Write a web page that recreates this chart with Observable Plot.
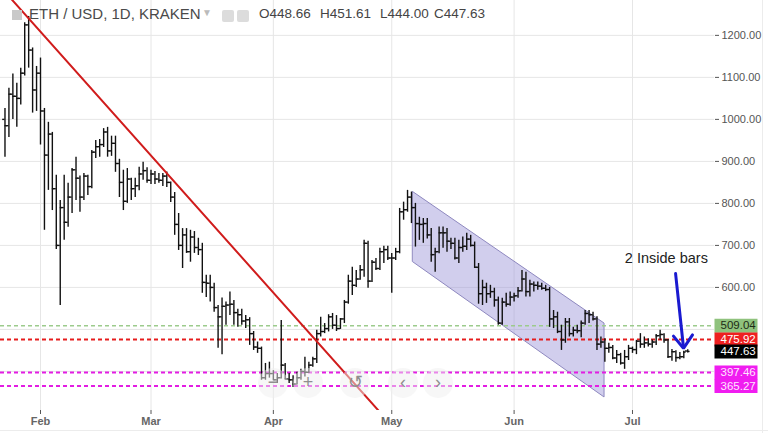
<!DOCTYPE html>
<html><head><meta charset="utf-8">
<script src="https://cdn.jsdelivr.net/npm/d3@7"></script>
<script src="https://cdn.jsdelivr.net/npm/@observablehq/plot@0.6"></script>
<style>
body{margin:0;background:#fff;}
#wrap{position:relative;width:768px;height:433px;overflow:hidden;font-family:"Liberation Sans",Arial,sans-serif;}
#wrap svg{position:absolute;left:0;top:0;}
.sq{position:absolute;left:12px;top:10px;width:10px;height:10px;background:#c9c9c9;}
.ttl{position:absolute;left:29px;top:5px;font-size:15px;color:#4a4a4a;}
.car{position:absolute;left:202px;top:7px;font-size:10px;color:#bbb;}
.ic{position:absolute;top:10px;width:12px;height:12px;background:#dcdcdc;border-radius:2px;}
.ohlc{position:absolute;top:6px;font-size:13.5px;color:#444;}
.btn{position:absolute;top:368px;width:30px;height:30px;border-radius:15px;background:rgba(240,240,240,0.5);color:#8f8f8f;font-size:18px;text-align:center;line-height:29px;}
.edge{position:absolute;left:762px;top:0;width:1px;height:433px;background:#ececec;}
.bot{position:absolute;left:0;top:430px;width:768px;height:1px;background:#ececec;}
</style></head><body><div id="wrap"></div>
<script>
// ---- data ----
const firstDay = "2018-01-23";
const opens = [
1000,985,1060,1055,1050,1110,1225,1165,1070,
1110,1020,915,965,835,700,790,755,815,880,860,815,865,840,922,935,940,970,925,943,895,850,805,858,835,842,870,878,
855,870,858,855,865,850,815,750,700,725,685,720,695,690,612,610,600,552,530,555,558,560,540,535,520,523,490,458,455,385,395,
395,380,385,415,382,380,370,385,400,398,415,430,490,495,502,530,510,502,525,565,615,605,620,642,705,615,660,645,685,690,
670,670,685,780,785,815,790,752,750,752,725,678,685,730,730,710,705,670,695,698,715,700,648,585,600,585,590,570,515,565,560,
577,580,592,620,590,608,605,603,598,595,525,530,495,475,518,490,498,497,515,538,535,525,465,470,455,457,432,440,420,435,
455,452,472,465,468,465,470,485,488,475,435,447,433,435,448.66];
const highs = [
1026,1074,1108,1086,1122,1230,1245,1170,1126,
1146,1026,993,969,867,807,867,848,883,910,865,871,867,926,950,952,978,981,960,960,905,879,883,860,860,886,898,885,
879,876,871,871,875,851,826,776,740,740,736,733,717,705,629,629,610,557,575,565,589,569,548,548,533,528,495,470,458,419,422,
402,395,521,419,395,390,398,405,434,422,434,498,529,514,535,538,533,526,569,629,648,640,652,712,710,664,669,693,698,698,
681,693,788,803,831,827,800,767,764,764,740,693,744,744,740,717,717,712,720,729,724,708,657,617,610,605,598,577,574,586,589,
586,600,640,636,617,613,613,610,605,600,545,541,510,526,526,505,510,520,545,545,541,530,482,478,467,462,450,443,450,462,
458,474,490,482,478,475,488,498,490,476,452,449,445,448,451.61];
const lows = [
910,957,1000,981,1034,1103,1122,1015,1019,
939,736,831,783,690,557,712,743,776,807,779,807,819,835,907,910,933,910,912,874,814,783,800,807,814,830,855,848,
845,845,848,840,838,802,724,688,645,681,660,681,676,586,576,565,541,455,440,510,533,510,505,510,502,462,450,443,379,379,384,
379,371,382,380,371,362,368,379,387,395,410,419,482,490,494,500,495,500,514,560,581,600,617,624,598,612,640,640,657,664,
586,664,680,760,779,752,696,712,705,715,660,636,680,693,684,690,665,657,684,688,696,645,560,557,562,574,553,510,510,553,555,
565,574,589,577,577,589,593,593,590,505,502,490,450,467,482,482,490,480,510,514,520,450,455,422,443,428,419,415,405,426,
443,440,455,455,458,455,462,474,467,431,424,422,428,430,444];
const closes = [
985,1060,1055,1050,1110,1225,1165,1070,1110,
1020,915,965,835,700,790,755,815,880,860,815,865,840,922,935,940,970,925,943,895,850,805,858,835,842,870,878,855,
870,858,855,865,850,815,750,700,725,685,720,695,690,612,610,600,552,530,555,558,560,540,535,520,523,490,458,455,385,395,395,
380,385,415,382,380,370,385,400,398,415,430,490,495,502,530,510,502,525,565,615,605,620,642,705,615,660,645,685,690,670,
670,685,780,785,815,790,752,750,752,725,678,685,730,730,710,705,670,695,698,715,700,648,585,600,585,590,570,515,565,560,577,
580,592,620,590,608,605,603,598,595,525,530,495,475,518,490,498,497,515,538,535,525,465,470,455,457,432,440,420,435,455,
452,472,465,468,465,470,485,488,475,435,447,433,435,446,447.63];

const monthTicks = ["2018-02-01","2018-03-01","2018-04-01","2018-05-01","2018-06-01","2018-07-01"];
const priceTicks = [600,700,800,900,1000,1100,1200];
const gridPrices = [400,500,600,700,800,900,1000,1100,1200];

const levelValues = [509.04,475.92,447.63,397.46,365.27];
const dashedLevels = [509.04,475.92,397.46,365.27];

// trend line, channel and arrow drawings
const trendDates = ["2018-01-22T00:00Z","2018-04-30T00:00Z"];
const trendPrices = [1314,282];
const channelDates = ["2018-05-06T10:00Z","2018-06-23T22:00Z"];
const channelLow = [660,338];
const channelHigh = [827,514];
const arrowShaftDates = ["2018-07-11T22:00Z","2018-07-13T22:00Z"];
const arrowShaftPrices = [633,457];
const arrowHeadDates = ["2018-07-11T09:00Z","2018-07-13T22:00Z","2018-07-16T05:00Z"];
const arrowHeadPrices = [484,455,487];
const noteText = ["2 Inside bars"];
const noteDate = ["2018-07-09T14:00Z"];
const notePrice = [668];
const ohlcLabels = ["O448.66","H451.61","L444.00","C447.63"];
const titleText = "ETH / USD, 1D, KRAKEN";

// ---- styles ----
const levelBg = ["#8fc27d","#ee2020","#000000","#f01df0","#f01df0"];
const levelFg = ["#1d2a15","#ffffff","#ffffff","#ffe6ff","#ffe6ff"];
const dashColor = {509.04:"#9ccb8c",475.92:"#e61c1c",397.46:"#e31de3",365.27:"#e31de3"};

const bars = opens.map((o,i)=>({date:d3.utcDay.offset(new Date(firstDay+"T00:00Z"),i),open:o,high:highs[i],low:lows[i],close:closes[i]}));
const levels = levelValues.map((v,i)=>({value:v,bg:levelBg[i],fg:levelFg[i]}));
const trend = trendDates.map((d,i)=>({date:new Date(d),price:trendPrices[i]}));
const channel = channelDates.map((d,i)=>({date:new Date(d),lo:channelLow[i],hi:channelHigh[i]}));
const shaft = arrowShaftDates.map((d,i)=>({date:new Date(d),price:arrowShaftPrices[i]}));
const head = arrowHeadDates.map((d,i)=>({date:new Date(d),price:arrowHeadPrices[i]}));
const note = noteText.map((t,i)=>({text:t,date:new Date(noteDate[i]),price:notePrice[i]}));
const tickOff = 14*3600e3;
const boxSymbol = {draw(c){c.rect(-21.5,-7,43,14);}};

const chart = Plot.plot({
  width:768,height:433,marginLeft:0,marginRight:54,marginTop:0,marginBottom:23,
  style:{fontFamily:'"Liberation Sans",Arial,sans-serif',fontSize:"11px",color:"#555",background:"transparent"},
  x:{type:"utc",domain:[new Date("2018-01-21T20:45Z"),new Date("2018-07-21T18:40Z")]},
  y:{domain:[307,1283]},
  color:{type:"identity"},
  marks:[
    Plot.ruleX(monthTicks.map(d=>new Date(d+"T00:00Z")),{stroke:"#e6e6e6"}),
    Plot.ruleY(gridPrices,{stroke:"#e6e6e6"}),
    Plot.areaY(channel,{x:"date",y1:"lo",y2:"hi",fill:"#9a92d6",fillOpacity:0.45,stroke:"#8e88bf",strokeWidth:1}),
    Plot.ruleY(dashedLevels,{y:d=>d,stroke:d=>dashColor[d],strokeWidth:d=>d===509.04?1.5:2,strokeDasharray:"4,3"}),
    Plot.ruleX(bars,{x:"date",y1:"low",y2:"high",stroke:"#111",strokeWidth:1.4}),
    Plot.ruleY(bars,{y:"open",x1:d=>new Date(+d.date-tickOff),x2:"date",stroke:"#111",strokeWidth:1.4}),
    Plot.ruleY(bars,{y:"close",x1:"date",x2:d=>new Date(+d.date+tickOff),stroke:"#111",strokeWidth:1.4}),
    Plot.line(trend,{x:"date",y:"price",stroke:"#d01c1c",strokeWidth:2,clip:true}),
    Plot.line(shaft,{x:"date",y:"price",stroke:"#1a1ad0",strokeWidth:3,strokeLinecap:"round"}),
    Plot.line(head,{x:"date",y:"price",stroke:"#1a1ad0",strokeWidth:3,strokeLinecap:"round",strokeLinejoin:"miter"}),
    Plot.text(note,{x:"date",y:"price",text:"text",fill:"#222",fontSize:14.5}),
    Plot.axisX({ticks:monthTicks.map(d=>new Date(d+"T00:00Z")),tickFormat:d3.utcFormat("%b"),tickSize:4,tickPadding:3,fontSize:11,fontWeight:"bold",fill:"#666",stroke:"#555",line:true,label:null}),
    Plot.axisY({ticks:priceTicks,anchor:"right",tickFormat:d=>d.toFixed(2),tickSize:4,tickPadding:3,fontSize:11,fill:"#555",stroke:"#555",line:true,label:null}),
    Plot.dot(levels,{y:"value",frameAnchor:"right",dx:21.5,symbol:boxSymbol,fill:"bg",stroke:null,r:3}),
    Plot.text(levels,{y:"value",frameAnchor:"right",dx:6,textAnchor:"start",text:d=>d.value.toFixed(2),fill:"fg",fontSize:11.5})
  ]
});
const wrap = document.getElementById("wrap");
wrap.appendChild(chart);

// TradingView header overlay
const hdr = document.createElement("div");
hdr.innerHTML = `<div class="sq"></div><div class="ttl">${titleText}</div><div class="car">&#9660;</div>
<div class="ic" style="left:222px"></div><div class="ic" style="left:237px"></div>` +
ohlcLabels.map((t,i)=>`<div class="ohlc" style="left:${[259,320,380,434][i]}px">${t}</div>`).join("");
wrap.appendChild(hdr);
// chart navigation buttons overlay
const btns = ["\u2212","+","\u21BA","\u2039","\u203A"];
[258,293,340,388,423].forEach((l,i)=>{const b=document.createElement("div");b.className="btn";b.style.left=l+"px";b.textContent=btns[i];wrap.appendChild(b);});
const e=document.createElement("div");e.className="edge";wrap.appendChild(e);
const bt=document.createElement("div");bt.className="bot";wrap.appendChild(bt);
</script></body></html>
